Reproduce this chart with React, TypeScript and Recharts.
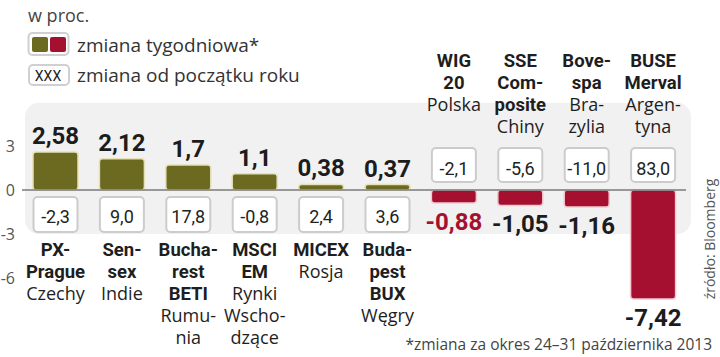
import React from "react";
import { BarChart, Bar, XAxis, YAxis, ReferenceLine, ReferenceArea } from "recharts";

const categories = ["PX-Prague", "Sensex", "Bucharest BETI", "MSCI EM", "MICEX", "Budapest BUX", "WIG 20", "SSE Composite", "Bovespa", "BUSE Merval"];
const indexLabels = ["PX-|Prague", "Sen-|sex", "Bucha-|rest|BETI", "MSCI|EM", "MICEX", "Buda-|pest|BUX", "WIG|20", "SSE|Com-|posite", "Bove-|spa", "BUSE|Merval"];
const countryLabels = ["Czechy", "Indie", "Rumu-|nia", "Rynki|Wscho-|dzące", "Rosja", "Węgry", "Polska", "Chiny", "Bra-|zylia", "Argen-|tyna"];
const weeklyChange = [2.58, 2.12, 1.7, 1.1, 0.38, 0.37, -0.88, -1.05, -1.16, -7.42];
const ytdChange = [-2.3, 9.0, 17.8, -0.8, 2.4, 3.6, -2.1, -5.6, -11.0, 83.0];
const yTicks = [3, 0, -3, -6];
const highlighted = "WIG 20";

const data = categories.map((name, i) => ({
  name,
  weekly: weeklyChange[i],
  ytd: ytdChange[i],
  idx: indexLabels[i],
  country: countryLabels[i],
}));

const OLIVE = "#6b6a20";
const RED = "#a51030";
const BOLD_FONT = "Roboto, 'DejaVu Sans', sans-serif";
const LIGHT_FONT = "'Open Sans', 'DejaVu Sans', sans-serif";

const fmtWeekly = (v: number) => String(v).replace(".", ",");
const fmtYtd = (v: number) => v.toFixed(1).replace(".", ",");

const BarShape = (props: any) => {
  const { x, y, width, height, payload } = props;
  const v: number = payload.weekly;
  const pos = v >= 0;
  const top = Math.min(y, y + height);
  const bottom = Math.max(y, y + height);
  const h = bottom - top;
  const cx = x + width / 2;
  const zeroY = pos ? bottom : top;
  const lines: { t: string; b: boolean }[] = [
    ...String(payload.idx).split("|").map((t) => ({ t, b: true })),
    ...String(payload.country).split("|").map((t) => ({ t, b: false })),
  ];
  const labelStart = pos ? zeroY + 66 : zeroY - 123;
  const boxY = pos ? zeroY + 7 : zeroY - 42;
  const boxH = pos ? 35 : 34;
  const ytdBase = pos ? zeroY + 33 : zeroY - 15;
  const valBase = pos ? top - 8 : bottom + 27;
  const valColor = payload.name === highlighted ? RED : "#1c1c1c";
  return (
    <g>
      <rect
        x={x}
        y={top}
        width={width}
        height={Math.max(h, 1)}
        rx={3}
        ry={3}
        fill={pos ? OLIVE : RED}
        stroke={pos ? "#e6e0b8" : "#f2c9ce"}
        strokeWidth={1.5}
      />
      <text x={cx} y={valBase} textAnchor="middle" fontFamily={BOLD_FONT} fontWeight={700} fontSize={24} fill={valColor}>
        {fmtWeekly(v)}
      </text>
      <rect x={x + 0.5} y={boxY} width={width - 1} height={boxH} rx={4} ry={4} fill="#ffffff" stroke="#cccccc" strokeWidth={2} />
      <text x={cx} y={ytdBase} textAnchor="middle" fontFamily={BOLD_FONT} fontSize={18} fill="#222222">
        {fmtYtd(payload.ytd)}
      </text>
      {lines.map((l, k) => (
        <text
          key={k}
          x={cx}
          y={labelStart + k * 22}
          textAnchor="middle"
          fontFamily={l.b ? BOLD_FONT : LIGHT_FONT}
          fontWeight={l.b ? 700 : 400}
          fontSize={l.b ? 18.5 : 18}
          fill="#1e1e1e"
        >
          {l.t}
        </text>
      ))}
    </g>
  );
};

const PanelShape = (props: any) => {
  const { x, y, width, height } = props;
  return <rect x={x + 3} y={y + 1} width={width + 2} height={height - 1} rx={14} ry={14} fill="#f1f1f1" />;
};

export default function App() {
  return (
    <div style={{ position: "absolute", left: 0, top: 0, width: 720, height: 357, background: "#ffffff" }}>
      <BarChart width={720} height={357} data={data} margin={{ top: 101.8, right: 34, bottom: 49.4, left: 0 }}>
        <ReferenceArea y1={-3} y2={6} shape={PanelShape} ifOverflow="visible" />
        <XAxis dataKey="name" hide />
        <YAxis
          domain={[-8, 6]}
          ticks={yTicks}
          width={22}
          axisLine={false}
          tickLine={false}
          tickSize={0}
          tickMargin={7}
          tickFormatter={(v: number) => String(v)}
          tick={{ fontSize: 16, fill: "#555555", fontFamily: LIGHT_FONT }}
        />
        <ReferenceLine y={0} stroke="#7a7a7a" strokeWidth={1.5} />
        <Bar dataKey="weekly" barSize={45} isAnimationActive={false} shape={BarShape} />
      </BarChart>
      <svg width={720} height={357} style={{ position: "absolute", left: 0, top: 0, pointerEvents: "none" }}>
        <text x={28} y={22} fontFamily={LIGHT_FONT} fontSize={18} fill="#444444">w proc.</text>
        <rect x={28.5} y={33} width={40} height={22} rx={4} fill="#ffffff" stroke="#d0d0d0" strokeWidth={2} />
        <rect x={32} y={37} width={16} height={15} rx={2} fill={OLIVE} />
        <rect x={50} y={37} width={16} height={15} rx={2} fill={RED} />
        <text x={77} y={52} fontFamily={LIGHT_FONT} fontSize={19} fill="#333333">zmiana tygodniowa*</text>
        <rect x={29} y={65} width={40} height={20} rx={4} fill="#ffffff" stroke="#d0d0d0" strokeWidth={2} />
        <text x={48} y={81} textAnchor="middle" fontFamily={BOLD_FONT} fontSize={14} fill="#222222">XXX</text>
        <text x={77} y={82} fontFamily={LIGHT_FONT} fontSize={19} fill="#333333">zmiana od początku roku</text>
        <text x={712} y={350} textAnchor="end" fontFamily={LIGHT_FONT} fontSize={15.5} fill="#444444">
          *zmiana za okres 24–31 października 2013
        </text>
        <text x={715} y={239} textAnchor="middle" transform="rotate(-90 715 239)" fontFamily={LIGHT_FONT} fontSize={14} fill="#555555">
          źródło: Bloomberg
        </text>
      </svg>
    </div>
  );
}
